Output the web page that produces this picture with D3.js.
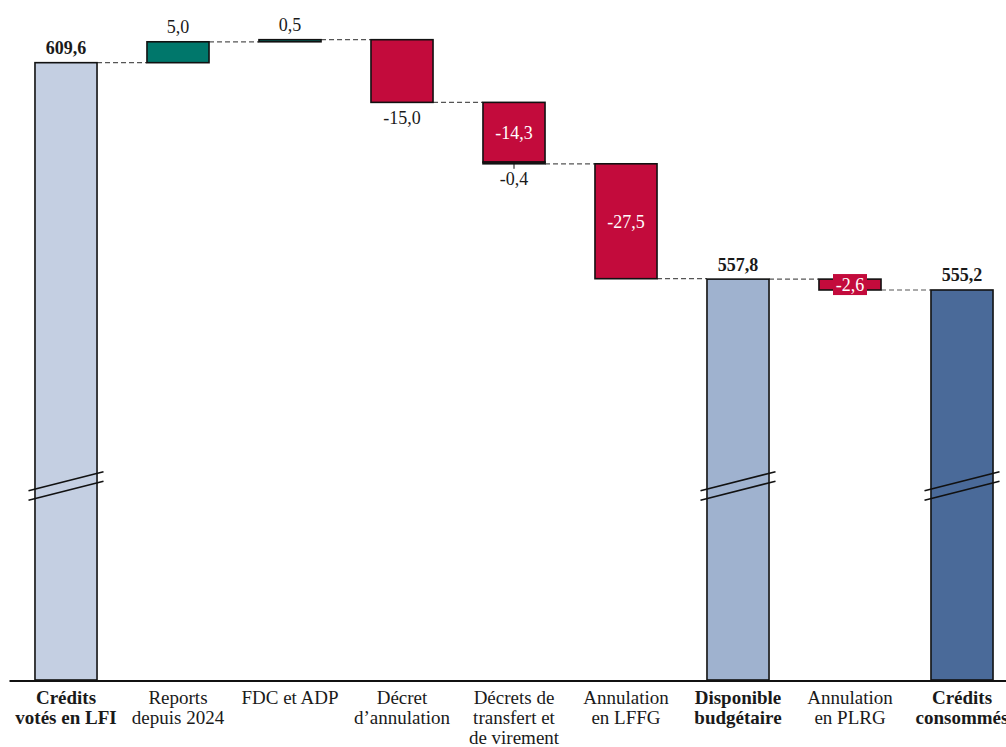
<!DOCTYPE html>
<html>
<head>
<meta charset="utf-8">
<script src="https://cdn.jsdelivr.net/npm/d3@7"></script>
<style>
  html, body { margin: 0; padding: 0; background: #fff; }
  svg { display: block; }
  text { font-family: "Liberation Serif", "Times New Roman", serif; fill: #1a1a1a; }
</style>
</head>
<body>
<svg id="chart" width="1006" height="747"></svg>
<script>
// ---- DATA ----
const categories = [
  "Crédits votés en LFI", "Reports depuis 2024", "FDC et ADP", "Décret d’annulation",
  "Décrets de transfert et de virement", "Annulation en LFFG", "Disponible budgétaire",
  "Annulation en PLRG", "Crédits consommés"
];
const categoryLines = [
  ["Crédits", "votés en LFI"],
  ["Reports", "depuis 2024"],
  ["FDC et ADP"],
  ["Décret", "d’annulation"],
  ["Décrets de", "transfert et", "de virement"],
  ["Annulation", "en LFFG"],
  ["Disponible", "budgétaire"],
  ["Annulation", "en PLRG"],
  ["Crédits", "consommés"]
];
const boldCategories = [0, 6, 8];
// each step of the waterfall: category index, value, kind
const stepCategory = [0, 1, 2, 3, 4, 4, 5, 6, 7, 8];
const stepValue    = [609.6, 5.0, 0.5, -15.0, -14.3, -0.4, -27.5, 557.8, -2.6, 555.2];
const stepKind     = ["total", "delta", "delta", "delta", "delta", "delta", "delta", "total", "delta", "total"];
const stepLabelMode = ["above", "above", "above", "below", "inside", "below", "inside", "above", "insideBox", "above"];
const totalColors = ["#c4cfe2", "#9fb2cf", "#4a6a99"];
const posColor = "#00776b";
const negColor = "#c30b3c";
const yDomain = [461.86, 624.6];
const breakValue = 508.3;

// ---- LAYOUT ----
const svg = d3.select("#chart");
const baselineY = 680;
const x = d3.scaleBand().domain(d3.range(categories.length)).range([10, 1018])
  .paddingInner(0.446).paddingOuter(0.223);
const y = d3.scaleLinear().domain(yDomain).range([baselineY, 0]);
const fmt = v => d3.format(".1f")(v).replace(".", ",").replace("−", "-");

// compute bars
let running = 0, totalIdx = 0;
const bars = stepValue.map((v, i) => {
  let lo, hi, color;
  if (stepKind[i] === "total") {
    lo = yDomain[0]; hi = v; running = v;
    color = totalColors[totalIdx++];
  } else {
    const start = running; running = start + v;
    lo = Math.min(start, running); hi = Math.max(start, running);
    color = v >= 0 ? posColor : negColor;
  }
  return { i, cat: stepCategory[i], v, lo, hi, end: running, kind: stepKind[i], color, mode: stepLabelMode[i] };
});

// connectors
const conn = svg.append("g");
for (let k = 0; k < bars.length - 1; k++) {
  const a = bars[k], b = bars[k + 1];
  if (a.cat === b.cat) continue;
  const level = a.end;
  conn.append("line")
    .attr("x1", x(a.cat) + x.bandwidth()).attr("x2", x(b.cat))
    .attr("y1", y(level)).attr("y2", y(level))
    .attr("stroke", "#555").attr("stroke-width", 1.2).attr("stroke-dasharray", "5,3");
}

// bars
svg.append("g").selectAll("rect").data(bars).join("rect")
  .attr("x", d => x(d.cat))
  .attr("width", x.bandwidth())
  .attr("y", d => y(d.hi))
  .attr("height", d => Math.max(0, y(d.lo) - y(d.hi)))
  .attr("fill", d => d.color)
  .attr("stroke", "#111").attr("stroke-width", 1.6);

// break marks on total bars
const br = svg.append("g");
bars.filter(d => d.kind === "total").forEach(d => {
  const cx = x(d.cat) + x.bandwidth() / 2, cy = y(breakValue);
  [-4.8, 4.8].forEach(off => {
    br.append("line")
      .attr("x1", cx - 37.5).attr("y1", cy + off + 9.5)
      .attr("x2", cx + 37.5).attr("y2", cy + off - 9.5)
      .attr("stroke", "#111").attr("stroke-width", 1.6);
  });
});

// value labels
const lab = svg.append("g").attr("font-size", 18).attr("text-anchor", "middle");
bars.forEach(d => {
  const cx = x(d.cat) + x.bandwidth() / 2;
  const top = y(d.hi), bot = y(d.lo);
  const txt = fmt(d.v);
  if (d.mode === "above") {
    lab.append("text").attr("x", cx).attr("y", top - 8.5).text(txt)
      .attr("font-weight", d.kind === "total" ? "bold" : "normal");
  } else if (d.mode === "below") {
    if (bot - top < 4) {
      lab.append("line").attr("x1", cx).attr("x2", cx).attr("y1", bot).attr("y2", bot + 5)
        .attr("stroke", "#111").attr("stroke-width", 1);
    }
    lab.append("text").attr("x", cx).attr("y", bot + 21.5).text(txt);
  } else if (d.mode === "inside") {
    lab.append("text").attr("x", cx).attr("y", (top + bot) / 2).attr("dy", "0.35em")
      .style("fill", "#fff").text(txt);
  } else if (d.mode === "insideBox") {
    const cy = (top + bot) / 2;
    lab.append("rect").attr("x", cx - 17).attr("y", cy - 10.5).attr("width", 34).attr("height", 21)
      .attr("fill", negColor);
    lab.append("text").attr("x", cx).attr("y", cy).attr("dy", "0.35em")
      .style("fill", "#fff").text(txt);
  }
});

// axis line
svg.append("line").attr("x1", 9.5).attr("x2", 1006).attr("y1", baselineY + 1).attr("y2", baselineY + 1)
  .attr("stroke", "#111").attr("stroke-width", 2);

// category labels
const cl = svg.append("g").attr("font-size", 19).attr("text-anchor", "middle");
categoryLines.forEach((lines, i) => {
  const t = cl.append("text")
    .attr("x", x(i) + x.bandwidth() / 2)
    .attr("y", 704)
    .attr("font-weight", boldCategories.includes(i) ? "bold" : "normal");
  lines.forEach((ln, j) => {
    t.append("tspan").attr("x", x(i) + x.bandwidth() / 2).attr("y", 704 + j * 20).text(ln);
  });
});
</script>
</body>
</html>
